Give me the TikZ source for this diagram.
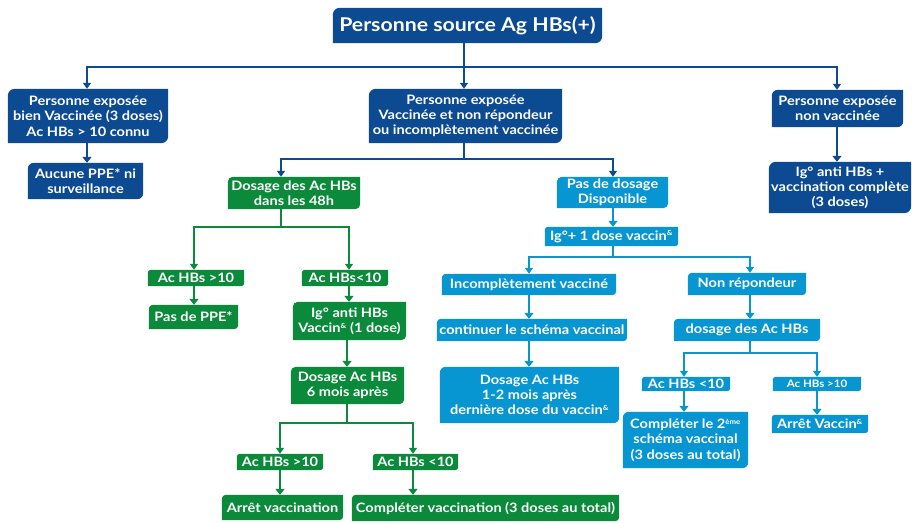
\documentclass[tikz,border=0pt]{standalone}
\usepackage{fontspec}
\setmainfont{Lato}[FakeStretch=1.12]
\usetikzlibrary{arrows.meta,backgrounds}
\definecolor{dk}{RGB}{12,74,146}
\definecolor{gr}{RGB}{10,138,58}
\definecolor{lb}{RGB}{8,150,210}
\newcommand{\amp}{\textsuperscript{\scriptsize\&}}
\tikzset{
  bx/.style={inner sep=0pt,align=center,text=white,font=\bfseries\fontsize{13}{15.3}\selectfont},
  sm/.style={font=\bfseries\fontsize{10.3}{11}\selectfont},
  ln/.style={line width=2pt},
  arr/.style={line width=2pt,-{Triangle[width=8pt,length=6pt]}},
  sarr/.style={line width=2.8pt,-{Triangle[width=9pt,length=6pt]}},
}
\begin{document}
\begin{tikzpicture}[x=1pt,y=1pt]
\useasboundingbox (0,0) rectangle (912,-522);
% top
\node[bx,font=\bfseries\fontsize{19}{21}\selectfont,minimum width=269,minimum height=35] (T) at (467.5,-25.5) {Personne source Ag HBs(+)};
% left
\node[bx,minimum width=160,minimum height=54] (L1) at (88,-116) {Personne exposée\\bien Vaccinée (3 doses)\\Ac HBs > 10 connu};
\node[bx,minimum width=115,minimum height=36] (L2) at (85.5,-181) {Aucune PPE* ni\\surveillance};
% middle
\node[bx,minimum width=193,minimum height=54] (M1) at (465.5,-116) {Personne exposée\\Vaccinée et non répondeur\\ou incomplètement vaccinée};
% right
\node[bx,minimum width=131,minimum height=37] (R1) at (837.5,-108.5) {Personne exposée\\non vaccinée};
\node[bx,minimum width=142,minimum height=51] (R2) at (840,-187.5) {Ig° anti HBs +\\vaccination complète\\(3 doses)};
% green
\node[bx,minimum width=132,minimum height=32] (G1) at (294,-193) {Dosage des Ac HBs\\dans les 48h};
\node[bx,minimum width=96,minimum height=16] (G2) at (196,-278) {Ac HBs >10};
\node[bx,minimum width=89,minimum height=24] (G3) at (193.5,-317) {Pas de PPE*};
\node[bx,minimum width=86,minimum height=16] (G4) at (345,-278) {Ac HBs<10};
\node[bx,minimum width=113,minimum height=38] (G5) at (349.5,-321) {Ig° anti HBs\\Vaccin\amp{} (1 dose)};
\node[bx,minimum width=113,minimum height=37] (G6) at (347.5,-385.5) {Dosage Ac HBs\\6 mois après};
\node[bx,minimum width=86,minimum height=16] (G7) at (280,-462) {Ac HBs >10};
\node[bx,minimum width=121,minimum height=25] (G8) at (282.5,-507.5) {Arrêt vaccination};
\node[bx,minimum width=85,minimum height=16] (G9) at (415.5,-462) {Ac HBs <10};
\node[bx,minimum width=267,minimum height=26] (G10) at (485.5,-508) {Compléter vaccination (3 doses au total)};
% light blue
\node[bx,minimum width=111,minimum height=31] (B1) at (612.5,-192.5) {Pas de dosage\\Disponible};
\node[bx,minimum width=133,minimum height=19] (B2) at (611.5,-236.5) {Ig°+ 1 dose vaccin\amp};
\node[bx,minimum width=174,minimum height=21] (B3) at (529,-284.5) {Incomplètement vacciné};
\node[bx,minimum width=190,minimum height=22] (B4) at (532,-330) {continuer le schéma vaccinal};
\node[bx,minimum width=179,minimum height=56] (B5) at (529.5,-395) {Dosage Ac HBs\\1-2 mois après\\dernière dose du vaccin\amp};
\node[bx,minimum width=118,minimum height=22] (B6) at (747,-284) {Non répondeur};
\node[bx,minimum width=146,minimum height=22] (B7) at (747,-330) {dosage des Ac HBs};
\node[bx,minimum width=88,minimum height=14] (B8) at (686,-384) {Ac HBs <10};
\node[bx,minimum width=125,minimum height=56] (B9) at (685.5,-440) {Compléter le 2\textsuperscript{\scriptsize ème}\\schéma vaccinal\\(3 doses au total)};
\node[bx,sm,minimum width=88,minimum height=14] (B10) at (817,-384) {Ac HBs >10};
\node[bx,minimum width=96,minimum height=18] (B11) at (820,-424) {Arrêt Vaccin\amp};
% backgrounds
\begin{pgfonlayer}{background}
\foreach \nm/\col/\rad in {T/dk/7pt,L1/dk/7pt,L2/dk/6pt,M1/dk/7pt,R1/dk/6pt,R2/dk/7pt,
  G1/gr/5pt,G2/gr/3pt,G3/gr/4pt,G4/gr/3pt,G5/gr/5pt,G6/gr/5pt,G7/gr/3pt,G8/gr/4pt,G9/gr/3pt,G10/gr/4pt,
  B1/lb/5pt,B2/lb/3pt,B3/lb/4pt,B4/lb/4pt,B5/lb/6pt,B6/lb/4pt,B7/lb/4pt,B8/lb/3pt,B9/lb/6pt,B10/lb/3pt,B11/lb/3pt}{
  \fill[\col] (\nm.south west) -- ([yshift=-\rad]\nm.north west) arc[start angle=180,end angle=90,radius=\rad]
    -- (\nm.north east) -- ([yshift=\rad]\nm.south east) arc[start angle=0,end angle=-90,radius=\rad] -- cycle;
}
\end{pgfonlayer}
% connectors
\coordinate (j1) at (464,-67);
\draw[ln,dk] (T.south -| j1) -- (j1);
\draw[arr,dk] (j1) -| (L1.north -| 87,0);
\draw[arr,dk] (j1) -- (M1.north -| j1);
\draw[arr,dk] (j1) -| (R1.north -| 837,0);
\draw[sarr,dk] (L1.south -| 87,0) -- (L2.north -| 87,0);
\draw[sarr,dk] (R1.south -| 837,0) -- (R2.north -| 837,0);
\coordinate (j2) at (464,-159);
\draw[ln,dk] (M1.south -| j2) -- (j2);
\draw[arr,dk] (j2) -| (G1.north -| 281,0);
\draw[arr,dk] (j2) -| (B1.north -| 613,0);
\coordinate (j3) at (281,-227);
\draw[ln,gr] (G1.south -| j3) -- (j3);
\draw[arr,gr] (j3) -| (G2.north -| 194,0);
\draw[arr,gr] (j3) -| (G4.north -| 349,0);
\draw[sarr,gr] (G2.south -| 194,0) -- (G3.north -| 194,0);
\draw[sarr,gr] (G4.south -| 349,0) -- (G5.north -| 349,0);
\draw[sarr,gr] (G5.south -| 347,0) -- (G6.north -| 347,0);
\coordinate (j4) at (347,-423);
\draw[ln,gr] (G6.south -| j4) -- (j4);
\draw[arr,gr] (j4) -| (G7.north -| 280,0);
\draw[arr,gr] (j4) -| (G9.north -| 413,0);
\draw[sarr,gr] (G7.south -| 280,0) -- (G8.north -| 280,0);
\draw[sarr,gr] (G9.south -| 413,0) -- (G10.north -| 413,0);
\draw[sarr,lb] (B1.south -| 613,0) -- (B2.north -| 613,0);
\coordinate (j5) at (613,-257);
\draw[ln,lb] (B2.south -| j5) -- (j5);
\draw[arr,lb] (j5) -| (B3.north -| 529,0);
\draw[arr,lb] (j5) -| (B6.north -| 750,0);
\draw[sarr,lb] (B3.south -| 529,0) -- (B4.north -| 529,0);
\draw[sarr,lb] (B4.south -| 529,0) -- (B5.north -| 529,0);
\draw[sarr,lb] (B6.south -| 750,0) -- (B7.north -| 750,0);
\coordinate (j6) at (750,-353);
\draw[ln,lb] (B7.south -| j6) -- (j6);
\draw[arr,lb] (j6) -| (B8.north -| 684,0);
\draw[arr,lb] (j6) -| (B10.north -| 817,0);
\draw[sarr,lb] (B8.south -| 684,0) -- (B9.north -| 684,0);
\draw[sarr,lb] (B10.south -| 817,0) -- (B11.north -| 817,0);
\end{tikzpicture}
\end{document}
